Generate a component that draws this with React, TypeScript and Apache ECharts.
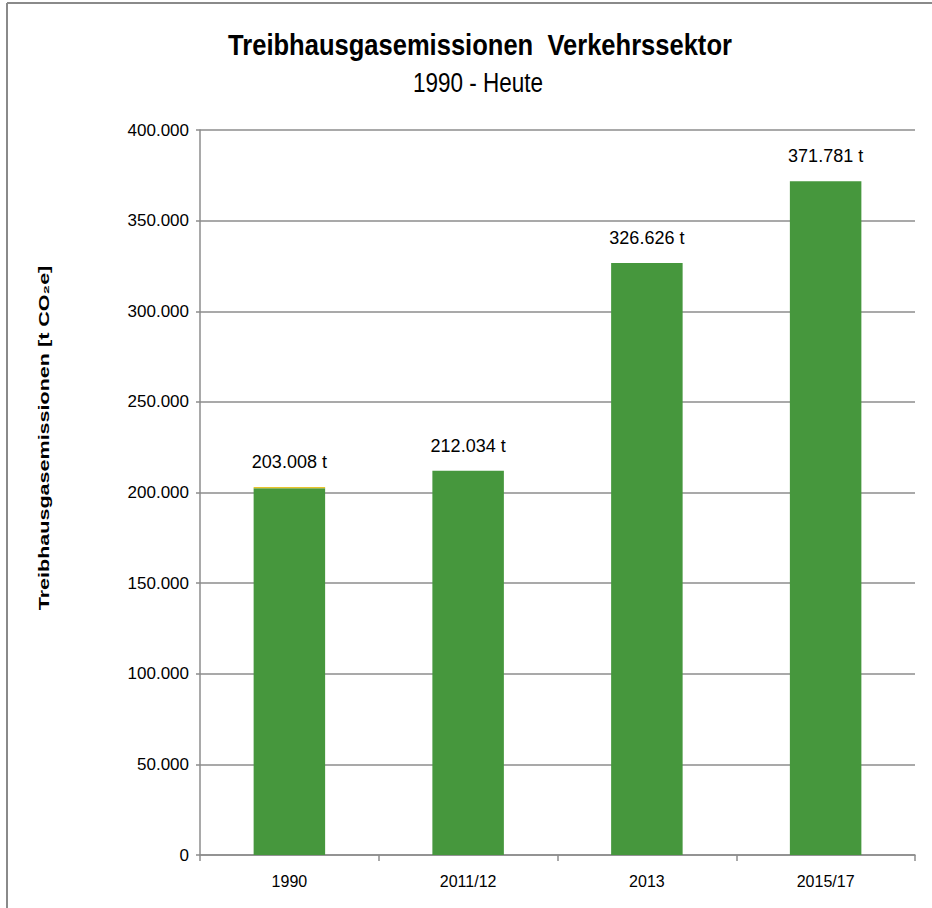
import React, { useEffect, useRef } from "react";
import * as echarts from "echarts";

const categories = ["1990", "2011/12", "2013", "2015/17"];
const totals = [203008, 212034, 326626, 371781];
const mainValues = [202400, 212034, 326626, 371781];
const topSliver = [608, 0, 0, 0];
const yTicks = { min: 0, max: 400000, interval: 50000 };

const TITLE = "Treibhausgasemissionen  Verkehrssektor";
const SUBTITLE = "1990 - Heute";
const Y_NAME = "Treibhausgasemissionen [t CO₂e]";

const fmt = (v: number) => {
  if (v === 0) return "0";
  return Math.round(v).toString().replace(/\B(?=(\d{3})+(?!\d))/g, ".");
};

const SANS = "'Liberation Sans', Arial, sans-serif";

function measure(text: string, font: string): number {
  const c = document.createElement("canvas").getContext("2d");
  if (!c) return text.length * 10;
  c.font = font;
  return c.measureText(text).width;
}

export default function App() {
  const ref = useRef<HTMLDivElement>(null);
  useEffect(() => {
    if (!ref.current) return;
    const chart = echarts.init(ref.current, undefined, { renderer: "svg" });

    const titleW = measure(TITLE, "bold 29px 'Liberation Sans'");
    const subW = measure(SUBTITLE, "28px 'Liberation Sans'");
    const nameW = measure(Y_NAME, "bold 15px 'Liberation Sans'");

    chart.setOption({
      animation: false,
      backgroundColor: "#ffffff",
      graphic: [
        { type: "line", shape: { x1: 7, y1: 3, x2: 932, y2: 3 }, style: { stroke: "#8a8a8a", lineWidth: 2 } },
        { type: "line", shape: { x1: 7, y1: 3, x2: 7, y2: 908 }, style: { stroke: "#8a8a8a", lineWidth: 2 } },
        {
          type: "text",
          x: 480,
          y: 45,
          scaleX: 504 / titleW,
          style: {
            text: TITLE,
            fontFamily: SANS,
            fontSize: 29,
            fontWeight: "bold",
            fill: "#000",
            align: "center",
            verticalAlign: "middle",
          },
        },
        {
          type: "text",
          x: 478,
          y: 82,
          scaleX: 130 / subW,
          style: {
            text: SUBTITLE,
            fontFamily: SANS,
            fontSize: 28,
            fill: "#000",
            align: "center",
            verticalAlign: "middle",
          },
        },
        {
          type: "text",
          x: 44,
          y: 438,
          rotation: Math.PI / 2,
          scaleX: 345 / nameW,
          style: {
            text: Y_NAME,
            fontFamily: SANS,
            fontSize: 15,
            fontWeight: "bold",
            fill: "#000",
            align: "center",
            verticalAlign: "middle",
          },
        },
      ],
      grid: { left: 200, right: 17, top: 130, bottom: 53, containLabel: false },
      xAxis: {
        type: "category",
        data: categories,
        axisLine: { lineStyle: { color: "#8c8c8c", width: 1.5 } },
        axisTick: { show: true, length: 6, lineStyle: { color: "#8c8c8c", width: 1.5 } },
        axisLabel: { fontFamily: SANS, fontSize: 16, color: "#000", margin: 18 },
      },
      yAxis: {
        type: "value",
        min: yTicks.min,
        max: yTicks.max,
        interval: yTicks.interval,
        axisLine: { show: true, lineStyle: { color: "#8c8c8c", width: 1.5 } },
        axisTick: { show: true, length: 4, lineStyle: { color: "#8c8c8c", width: 1.5 } },
        splitLine: { show: true, lineStyle: { color: "#8c8c8c", width: 1.5 } },
        axisLabel: { fontFamily: SANS, fontSize: 17, color: "#000", margin: 11, formatter: fmt },
      },
      series: [
        {
          type: "bar",
          stack: "total",
          data: mainValues,
          barWidth: "40%",
          itemStyle: { color: "#46973d" },
        },
        {
          type: "bar",
          stack: "total",
          data: topSliver,
          barWidth: "40%",
          itemStyle: { color: "#e8c42a" },
          label: {
            show: true,
            position: "top",
            distance: 16,
            fontFamily: SANS,
            fontSize: 18,
            color: "#000",
            formatter: (p: any) => fmt(totals[p.dataIndex]) + " t",
          },
        },
      ],
    });
    return () => chart.dispose();
  }, []);
  return (
    <div
      ref={ref}
      style={{ position: "fixed", left: 0, top: 0, width: 932, height: 908 }}
    />
  );
}
